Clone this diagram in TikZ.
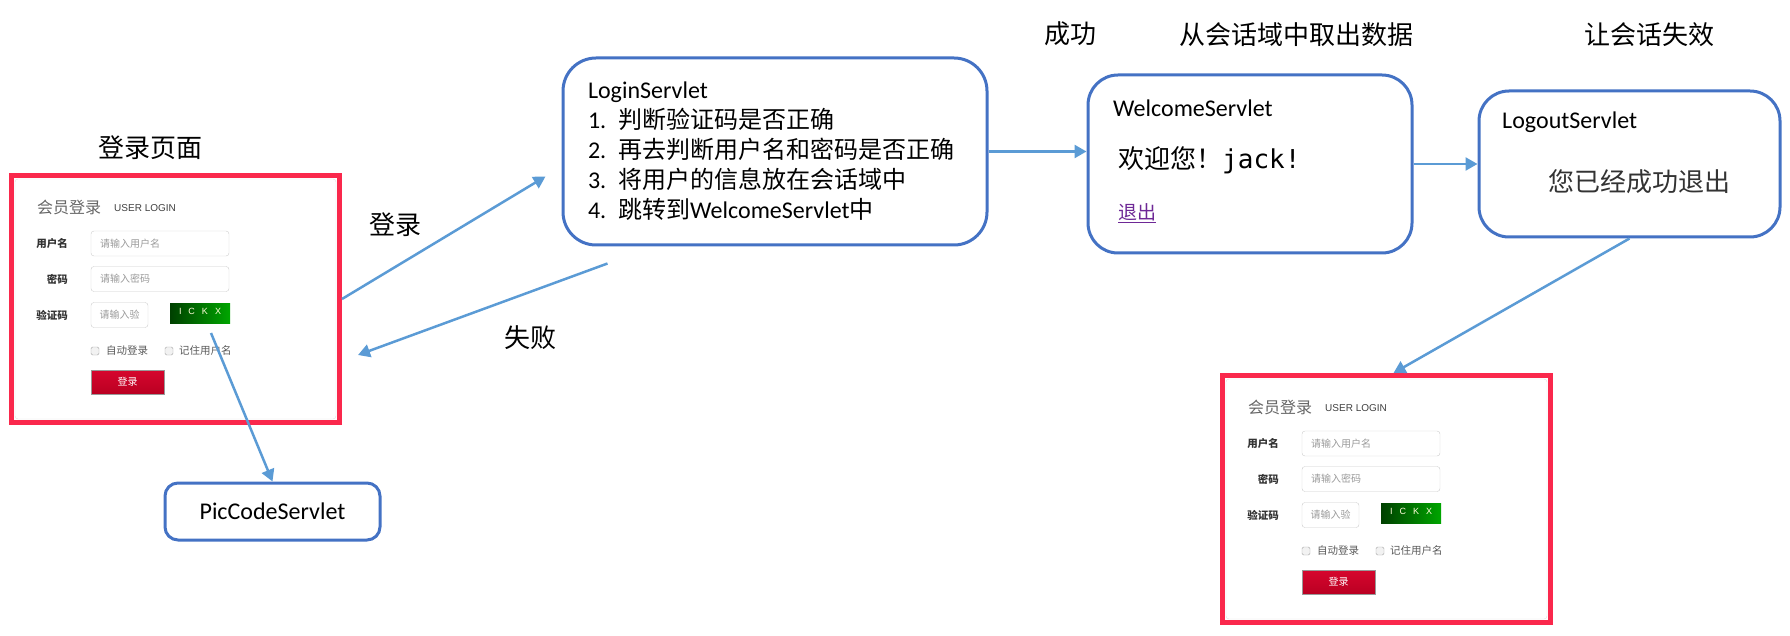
\documentclass[tikz,border=0pt]{standalone}
\usepackage{fontspec}
\setmainfont{Carlito}
\newfontfamily\cjk{Noto Sans CJK SC}
\newfontfamily\formfont{Liberation Sans}
\newfontfamily\jmono{DejaVu Sans Mono}
\usetikzlibrary{positioning, arrows.meta}

\definecolor{servletblue}{RGB}{68,114,196}
\definecolor{flowblue}{RGB}{91,155,213}
\definecolor{formred}{RGB}{250,40,76}
\definecolor{linkpurple}{RGB}{110,40,150}
\definecolor{btnred}{RGB}{214,6,46}
\definecolor{btnreddark}{RGB}{186,0,34}

\tikzset{
  loginform/.pic={
    % red frame and white panel
    \node[draw=formred, line width=5pt, minimum width=328pt, minimum height=247pt, inner sep=0pt] (-frame) at (166.5,126) {};
    \draw[black!12, rounded corners=3pt] (6,6) rectangle (327,246);
    \node[txt, font=\cjk\fontsize{16}{18}\selectfont, text=black!60] (-title) at (28,34) {会员登录};
    \node[txt, font=\formfont\fontsize{10}{12}\selectfont, text=black!75] (-sub) at (105,35) {USER LOGIN};
    % input rows
    \node[flabel] (-ulabel) at (59,70.5) {用户名};
    \node[field, text width=120pt] (-user) at (151,70.5) {请输入用户名};
    \node[flabel] (-plabel) at (59,106) {密码};
    \node[field, text width=120pt] (-pass) at (151,106) {请输入密码};
    \node[flabel] (-clabel) at (59,142) {验证码};
    \node[field, text width=40pt, inner xsep=8.5pt] (-cfield) at (110.5,142) {请输入验};
    \node[captcha] (-code) at (191,140) {\raisebox{4pt}{I\hspace{7pt}C\hspace{7pt}K\hspace{7pt}X}};
    \coordinate (-tail) at (202,160);
    % options
    \node[cbox] (-auto) at (86,178) {};
    \node[txt, ftext] (-autotext) at (97,178) {自动登录};
    \node[cbox] (-keep) at (160,178) {};
    \node[txt, ftext] (-keeptext) at (170,178) {记住用户名};
    % submit button
    \node[button] (-submit) at (118.5,209) {登录};
  }
}

\begin{document}
\begin{tikzpicture}[
  x=1pt, y=-1pt,
  txt/.style={anchor=west, inner sep=0pt},
  lbl/.style={font=\cjk\fontsize{26}{30}\selectfont},
  servlet/.style={draw=servletblue, line width=3pt, rounded corners=30pt, fill=white, inner sep=0pt},
  flow/.style={draw=flowblue, line width=2.5pt, -{Triangle[length=12pt, width=13pt]}},
  flabel/.style={anchor=east, inner sep=0pt, font=\cjk\bfseries\fontsize{10.5}{12}\selectfont, text=black!80},
  field/.style={draw=black!20, rounded corners=3pt, inner xsep=9pt, inner ysep=0pt, minimum height=25pt, align=left, font=\cjk\fontsize{10}{12}\selectfont, text=black!40},
  ftext/.style={font=\cjk\fontsize{10.5}{12}\selectfont, text=black!65},
  cbox/.style={draw=black!35, fill=black!5, rounded corners=1.5pt, minimum size=8pt, inner sep=0pt},
  captcha/.style={left color=green!25!black, right color=green!65!black, minimum width=60pt, minimum height=20pt, inner sep=0pt, text=yellow!15, font=\formfont\fontsize{9}{10}\selectfont},
  button/.style={draw=black!40, line width=1pt, top color=btnred, bottom color=btnreddark, minimum width=73pt, minimum height=24pt, inner sep=0pt, text=white, font=\cjk\fontsize{10}{12}\selectfont}
]
  \useasboundingbox (0,0) rectangle (1790,636);

  % login pages
  \pic (lf) at (9,173) {loginform};
  \pic (rf) at (1220,373) {loginform};

  % servlets
  \node[servlet, rounded corners=33pt, minimum width=424pt, minimum height=187pt, text width=374pt, align=left, font=\fontsize{24}{30}\selectfont] (login) at (775,151.5) {LoginServlet\\
    1. {\cjk 判断验证码是否正确}\\
    2. {\cjk 再去判断用户名和密码是否正确}\\
    3. {\cjk 将用户的信息放在会话域中}\\
    4. {\cjk 跳转到}WelcomeServlet{\cjk 中}};

  \node[servlet, minimum width=324pt, minimum height=178pt] (welcome) at (1250,164) {};
  \node[txt, font=\fontsize{24}{29}\selectfont] (welcome-title) at (1113,108) {WelcomeServlet};
  \node[txt, font=\cjk\fontsize{26}{30}\selectfont] (welcome-msg) at (1118,160) {欢迎您！{\jmono jack!}};
  \node[txt, font=\cjk\fontsize{19}{22}\selectfont, text=linkpurple] (welcome-link) at (1118,213) {\underline{退出}};

  \node[servlet, minimum width=301pt, minimum height=146pt] (logout) at (1629.5,164) {};
  \node[txt, font=\fontsize{24}{29}\selectfont] (logout-title) at (1502,122) {LogoutServlet};
  \node[txt, font=\cjk\fontsize{26}{30}\selectfont, text=black!80] (logout-msg) at (1548,182) {您已经成功退出};

  \node[servlet, rounded corners=13pt, minimum width=215pt, minimum height=57pt, font=\fontsize{24}{29}\selectfont] (piccode) at (272.5,511.5) {PicCodeServlet};

  % step labels
  \node[lbl] (page-lbl) at (150.5,148) {登录页面};
  \node[lbl] (submit-lbl) at (395,225) {登录};
  \node[lbl] (fail-lbl) at (530,338) {失败};
  \node[lbl] (ok-lbl) at (1070,34) {成功};
  \node[lbl] (fetch-lbl) at (1296,35) {从会话域中取出数据};
  \node[lbl] (expire-lbl) at (1649,35) {让会话失效};

  % request flow
  \draw[flow] (lf-frame.east) -- ([xshift=-16pt, yshift=-25pt]login.west);
  \draw[flow] ([xshift=46pt, yshift=-17pt]login.south west) -- ([xshift=16pt, yshift=-56pt]lf-frame.east);
  \draw[flow] (login.east) -- (login.east -| welcome.west);
  \draw[flow] (welcome.east) -- (logout.west);
  \draw[flow] (logout.south) -- ([xshift=7pt]rf-frame.north);
  \draw[flow] (lf-tail) -- (piccode.north);
\end{tikzpicture}
\end{document}
